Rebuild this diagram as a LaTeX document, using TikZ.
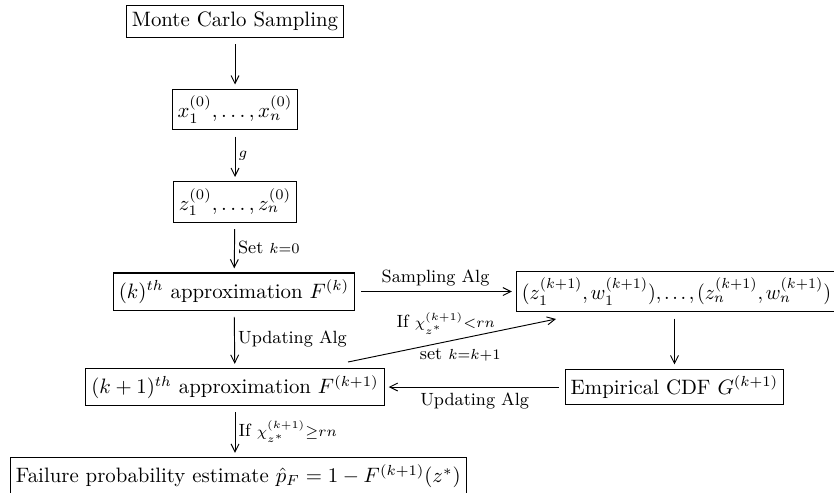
\documentclass[tikz,border=0pt]{standalone}
\usepackage{fontspec}
\usetikzlibrary{arrows.meta}
\DeclareMathSizes{8.5}{8.5}{7}{5}
\tikzset{
  box/.style={draw, line width=0.5pt, inner xsep=2.6pt, inner ysep=3.2pt, font=\fontsize{10}{12}\selectfont},
  arr/.style={line width=0.45pt, -{Straight Barb[length=3.8pt,width=3.8pt]}, shorten <=3pt, shorten >=2pt},
  lab/.style={font=\fontsize{8.5}{10}\selectfont, inner sep=1.5pt}
}
\begin{document}
\begin{tikzpicture}[x=0.48pt,y=-0.48pt]
\useasboundingbox (0,0) rectangle (834,492);
\clip (0,0) rectangle (834,492);
\node[box] (mc) at (235,21.5) {Monte Carlo Sampling};
\node[box] (x) at (235,109.5) {$x_1^{(0)},\ldots,x_n^{(0)}$};
\node[box] (z) at (235,202) {$z_1^{(0)},\ldots,z_n^{(0)}$};
\node[box] (k) at (234,291.5) {$(k)^{th}$ approximation $F^{(k)}$};
\node[box] (kp) at (235,387) {$(k+1)^{th}$ approximation $F^{(k+1)}$};
\node[box, anchor=north west] (fail) at (10,457) {Failure probability estimate $\hat{p}_F = 1 - F^{(k+1)}(z^*)$};
\node[box, anchor=west] (rb) at (516,291.5) {\scalebox{0.96}[1]{$\thinmuskip=2.4mu (z_1^{(k+1)}, w_1^{(k+1)}),\ldots,(z_n^{(k+1)}, w_n^{(k+1)})$}};
\node[box] (emp) at (674.5,387) {Empirical CDF $G^{(k+1)}$};
\coordinate (d1) at (348,362);
\coordinate (d2) at (556,319);

\draw[arr] (mc) -- (x);
\draw[arr] (x) -- node[lab, anchor=west]{$\scriptstyle g$} (z);
\draw[arr] (z) -- node[lab, anchor=west]{Set $\scriptstyle k=0$} (k);
\draw[arr] (k) -- node[lab, anchor=west]{Updating Alg} (kp);
\draw[arr] (kp) -- node[lab, anchor=west]{If $\scriptstyle \chi_{z^*}^{(k+1)}\geq rn$} (kp |- fail.north);
\draw[arr] (k) -- node[lab, anchor=south, yshift=1pt]{Sampling Alg} (k -| rb.west);
\draw[arr] (emp.north |- rb.south) -- (emp);
\draw[arr] (emp) -- node[lab, anchor=north, yshift=-1pt]{Updating Alg} (emp -| kp.east);
\draw[line width=0.45pt, -{Straight Barb[length=3.8pt,width=3.8pt]}] (d1) -- (d2)
  node[lab, pos=0.47, anchor=south, yshift=2pt]{If $\scriptstyle \chi_{z^*}^{(k+1)}<rn$}
  node[lab, pos=0.54, anchor=north, yshift=-3pt]{set $\scriptstyle k=k+1$};
\end{tikzpicture}
\end{document}
